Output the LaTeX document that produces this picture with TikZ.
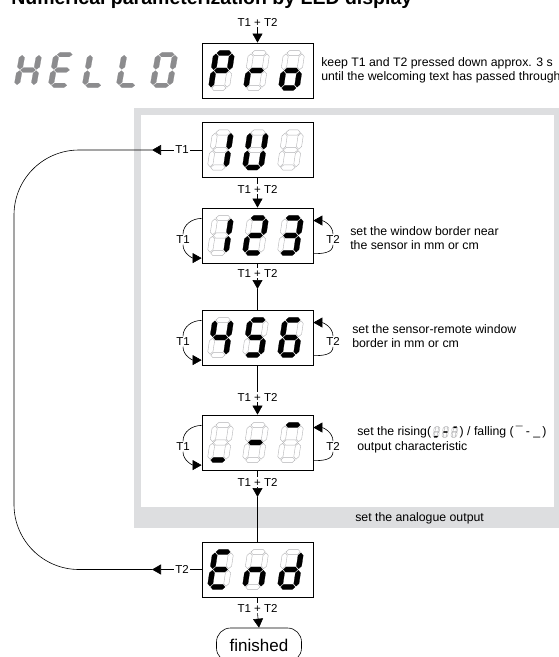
\documentclass[tikz,border=0pt]{standalone}
\usepackage{fontspec}
\setmainfont{Liberation Sans}
\usetikzlibrary{arrows.meta,calc,positioning}

\definecolor{framegray}{RGB}{221,222,224}
\definecolor{hellogray}{RGB}{140,140,142}
\definecolor{offgray}{RGB}{178,178,180}

% seven-segment cell: segments a b c d e f g, 1 = lit
\newcommand{\hseg}[2]{%
  \ifnum#1=1 \tikzset{ledseg/.style={segon}}\else\tikzset{ledseg/.style={segoff}}\fi
  \path[ledseg] (-7.2,#2) -- (-4.6,#2+2.6) -- (4.6,#2+2.6) -- (7.2,#2)
    -- (4.6,#2-2.6) -- (-4.6,#2-2.6) -- cycle;}
\newcommand{\vseg}[4]{%
  \ifnum#1=1 \tikzset{ledseg/.style={segon}}\else\tikzset{ledseg/.style={segoff}}\fi
  \path[ledseg] (#2,#3+0.8) -- (#2+2.6,#3+3.4) -- (#2+2.6,#4-3.4) -- (#2,#4-0.8)
    -- (#2-2.6,#4-3.4) -- (#2-2.6,#3+3.4) -- cycle;}
\def\ledbits#1#2#3#4#5#6#7{%
  \hseg{#1}{17.5}\vseg{#2}{8}{0}{17.5}\vseg{#3}{8}{-17.5}{0}\hseg{#4}{-17.5}%
  \vseg{#5}{-8}{-17.5}{0}\vseg{#6}{-8}{0}{17.5}\hseg{#7}{0}}
\newcommand{\ledcell}[3][scale=1]{%
  \begin{scope}[shift={(#2)},#1,xslant=0.15]\ledbits#3\end{scope}}

\tikzset{
  ledbox/.style={draw, line width=0.8pt, minimum width=111pt, minimum height=55pt, inner sep=0pt},
  keylbl/.style={font=\fontsize{11.5}{13}\selectfont, inner sep=1pt},
  desc/.style={font=\fontsize{12.3}{14}\selectfont, align=left, anchor=west, inner sep=0pt},
  segon/.style={fill=black, draw=black, line width=0.2pt},
  segoff/.style={fill=white, draw=offgray, line width=0.4pt},
  flowtip/.style={-{Triangle[length=9pt,width=10pt]}},
}

\begin{document}
\begin{tikzpicture}[x=1pt,y=1pt,line width=0.6pt]
  \useasboundingbox (0,0) rectangle (559,-657);
  \fill[white] (0,0) rectangle (559,-657);

  % title
  \node[anchor=base west, inner sep=0pt, font=\fontsize{19.5}{22}\selectfont\bfseries] (title)
    at (11,-4) {Numerical parameterization by LED display};

  % frame of the analogue output
  \fill[framegray] (134,-108) rectangle (575,-528);
  \fill[white] (141,-115) rectangle (554,-507);
  \node[desc] (ana) at (355,-518) {set the analogue output};

  % welcome text
  \begin{scope}[segon/.style={fill=hellogray, draw=hellogray, line width=0.2pt}, segoff/.style={draw=none}]
    \ledcell[xscale=1.05,yscale=0.88]{28,-70}{0110111}
    \ledcell[xscale=1.05,yscale=0.88]{62,-70}{1001111}
    \ledcell[xscale=1.05,yscale=0.88]{96,-70}{0001110}
    \ledcell[xscale=1.05,yscale=0.88]{130,-70}{0001110}
    \ledcell[xscale=1.05,yscale=0.88]{164,-70}{1111110}
  \end{scope}

  % displays
  \node[ledbox] (pro) at (257.5,-70.5) {};
  \node[ledbox] (b1u) at (257.5,-150) {};
  \node[ledbox] (b123) at (257.5,-235.5) {};
  \node[ledbox] (b456) at (257.5,-337.5) {};
  \node[ledbox] (bdash) at (257.5,-442.5) {};
  \node[ledbox] (bend) at (257.5,-569.5) {};
  \node[draw, rounded corners=14pt, minimum width=85pt, minimum height=34pt,
    font=\fontsize{17}{19}\selectfont] (fin) at (259,-645) {finished};

  \ledcell{$(pro)+(-36,0)$}{1100111}
  \ledcell{$(pro)+(-1,0)$}{0000101}
  \ledcell{$(pro)+(34,0)$}{0011101}

  \ledcell{$(b1u)+(-37,0)$}{0110000}
  \ledcell{$(b1u)+(-2,0)$}{0111110}
  \ledcell{$(b1u)+(33,0)$}{0000000}

  \ledcell{$(b123)+(-37,0)$}{0110000}
  \ledcell{$(b123)+(-2,0)$}{1101101}
  \ledcell{$(b123)+(33,0)$}{1111001}

  \ledcell{$(b456)+(-37,0)$}{0110011}
  \ledcell{$(b456)+(-2,0)$}{1011011}
  \ledcell{$(b456)+(33,0)$}{1011111}

  \ledcell{$(bdash)+(-37,0)$}{0001000}
  \ledcell{$(bdash)+(-2,0)$}{0000001}
  \ledcell{$(bdash)+(33,0)$}{1000000}

  \ledcell{$(bend)+(-37,0)$}{1001111}
  \ledcell{$(bend)+(-2,0)$}{0010101}
  \ledcell{$(bend)+(33,0)$}{0111101}

  % key labels
  \node[keylbl] (k0) at (257.5,-22) {T1 + T2};
  \node[keylbl] (k1) at (257.5,-189) {T1 + T2};
  \node[keylbl] (k2) at (257.5,-273) {T1 + T2};
  \node[keylbl] (k3) at (257.5,-397) {T1 + T2};
  \node[keylbl] (k4) at (257.5,-482) {T1 + T2};
  \node[keylbl] (k5) at (257.5,-608) {T1 + T2};
  \coordinate (a2) at (257.5,-289);
  \coordinate (a4) at (257.5,-497);

  % main flow
  \draw[flowtip] (k0.south) -- (pro.north);
  \draw (b1u.south) -- (k1.north);
  \draw[flowtip] (k1.south) -- (b123.north);
  \draw (b123.south) -- (k2.north);
  \draw[flowtip] (k2.south) -- (a2);
  \draw (a2) -- (b456.north);
  \draw (b456.south) -- (k3.north);
  \draw[flowtip] (k3.south) -- (bdash.north);
  \draw (bdash.south) -- (k4.north);
  \draw[flowtip] (k4.south) -- (a4);
  \draw (a4) -- (bend.north);
  \draw (bend.south) -- (k5.north);
  \draw[flowtip] (k5.south) -- (fin.north);

  % T1 / T2 loops at the value displays
  \node[keylbl] (l123) at (183,-239.5) {T1};
  \node[keylbl] (r123) at (333,-239.5) {T2};
  \node[keylbl] (l456) at (183,-341.5) {T1};
  \node[keylbl] (r456) at (333,-341.5) {T2};
  \node[keylbl] (ldash) at (183,-446.5) {T1};
  \node[keylbl] (rdash) at (333,-446.5) {T2};

  \draw (b123.163) to[out=180,in=90] (l123.north);
  \draw[flowtip] (l123.south) to[out=-90,in=180] (b123.202);
  \draw (b123.342) to[out=0,in=-90] (r123.south);
  \draw[flowtip] (r123.north) to[out=90,in=0] (b123.15);

  \draw (b456.163) to[out=180,in=90] (l456.north);
  \draw[flowtip] (l456.south) to[out=-90,in=180] (b456.202);
  \draw (b456.342) to[out=0,in=-90] (r456.south);
  \draw[flowtip] (r456.north) to[out=90,in=0] (b456.15);

  \draw (bdash.163) to[out=180,in=90] (ldash.north);
  \draw[flowtip] (ldash.south) to[out=-90,in=180] (bdash.202);
  \draw (bdash.342) to[out=0,in=-90] (rdash.south);
  \draw[flowtip] (rdash.north) to[out=90,in=0] (bdash.15);

  % return loop
  \node[keylbl] (t1u) at (182,-150) {T1};
  \node[keylbl] (t2e) at (182,-569.5) {T2};
  \coordinate (lpA) at (152,-150);
  \coordinate (lpB) at (152,-569.5);
  \draw (b1u.west) -- (t1u.east);
  \draw[flowtip] (t1u.west) -- (lpA);
  \draw (bend.west) -- (t2e.east);
  \draw[flowtip] (t2e.west) -- (lpB);
  \draw[rounded corners=65pt] (lpA) -- (14,-150) -- (14,-569.5) -- (lpB);

  % descriptions
  \node[desc] (keep) at (321,-70.5) {keep T1 and T2 pressed down approx. 3 s\\until the welcoming text has passed through};
  \node[desc] (win1) at (350,-238) {set the window border near\\the sensor in mm or cm};
  \node[desc] (win2) at (352,-336) {set the sensor-remote window\\border in mm or cm};
  \node[desc] (ris) at (357,-432) {set the rising(};
  \ledcell[scale=0.27]{$(ris.east)+(5,0)$}{0001000}
  \ledcell[scale=0.27]{$(ris.east)+(14,0)$}{0000001}
  \ledcell[scale=0.27]{$(ris.east)+(23,0)$}{1000000}
  \node[desc] (fal) at ($(ris.east)+(28,0)$) {) / falling (\,¯ - \_\,)};
  \node[desc] (och) at (357,-447) {output characteristic};
\end{tikzpicture}
\end{document}
